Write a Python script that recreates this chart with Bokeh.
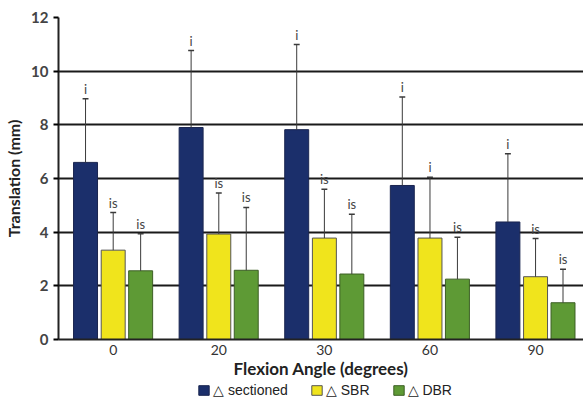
from bokeh.plotting import figure
from bokeh.layouts import column
from bokeh.models import Range1d, FixedTicker, Legend, LegendItem, ColumnDataSource
from bokeh.core.properties import value
from bokeh.embed import file_html
from bokeh.resources import INLINE

categories = ["0", "20", "30", "60", "90"]
sectioned = [6.6, 7.9, 7.82, 5.74, 4.38]
sectioned_err = [8.97, 10.77, 10.99, 9.04, 6.92]
sbr = [3.33, 3.93, 3.78, 3.78, 2.34]
sbr_err = [4.73, 5.46, 5.6, 6.05, 3.76]
dbr = [2.56, 2.58, 2.44, 2.25, 1.37]
dbr_err = [3.94, 4.92, 4.67, 3.81, 2.62]
sectioned_sig = ["i", "i", "i", "i", "i"]
sbr_sig = ["is", "is", "is", "i", "is"]
dbr_sig = ["is", "is", "is", "is", "is"]
series_labels = ["\u25b3 sectioned", "\u25b3 SBR", "\u25b3 DBR"]
y_ticks = [0, 2, 4, 6, 8, 10, 12]

FONT = "Lato"
colors = ["#1b2f6b", "#f0e41c", "#5e9a35"]
outlines = ["#1a2550", "#555555", "#3d5f25"]
offsets = [-0.262, 0.0, 0.26]
bw = 0.227

p = figure(width=583, height=382, output_backend="svg", toolbar_location=None,
           x_range=Range1d(-0.518, 4.454), y_range=Range1d(0, 12),
           min_border_left=58, min_border_top=17, min_border_right=0,
           min_border_bottom=43)
p.outline_line_color = None
p.background_fill_color = "white"

idx = list(range(len(categories)))
series = [(sectioned, sectioned_err, sectioned_sig),
          (sbr, sbr_err, sbr_sig),
          (dbr, dbr_err, dbr_sig)]

for k, (vals, errs, sigs) in enumerate(series):
    xs = [i + offsets[k] for i in idx]
    src = ColumnDataSource(dict(x=xs, top=vals, err=errs, sig=sigs,
                                cl=[x - 0.028 for x in xs], cr=[x + 0.028 for x in xs]))
    p.vbar(x="x", top="top", width=bw, source=src, fill_color=colors[k],
           line_color=outlines[k], line_width=1)
    p.segment(x0="x", y0="top", x1="x", y1="err", source=src, line_color="#3a3a3a", line_width=1)
    p.segment(x0="cl", y0="err", x1="cr", y1="err", source=src, line_color="#3a3a3a", line_width=1.5)
    p.text(x="x", y="err", text="sig", source=src, text_align="center",
           text_baseline="bottom", y_offset=-2, text_font=value(FONT),
           text_font_size="13px", text_color="#444444")

# axes
p.xaxis.ticker = FixedTicker(ticks=idx)
p.xaxis.major_label_overrides = {i: c for i, c in enumerate(categories)}
p.xaxis.major_tick_out = 0
p.xaxis.major_tick_in = 0
p.xaxis.minor_tick_line_color = None
p.xaxis.axis_line_width = 2
p.xaxis.axis_line_color = "#222222"
p.xaxis.major_label_text_font = FONT
p.xaxis.major_label_text_font_size = "14px"
p.xaxis.major_label_text_color = "#333333"
p.xaxis.major_label_standoff = 5
p.xaxis.axis_label = "Flexion Angle (degrees)"
p.xaxis.axis_label_text_font = FONT
p.xaxis.axis_label_text_font_style = "bold"
p.xaxis.axis_label_text_font_size = "17px"
p.xaxis.axis_label_text_color = "#222222"
p.xaxis.axis_label_standoff = 0

p.yaxis.ticker = FixedTicker(ticks=y_ticks)
p.yaxis.major_tick_out = 5
p.yaxis.major_tick_in = 0
p.yaxis.major_tick_line_width = 2
p.yaxis.minor_tick_line_color = None
p.yaxis.axis_line_width = 2
p.yaxis.axis_line_color = "#222222"
p.yaxis.major_label_text_font = FONT
p.yaxis.major_label_text_font_style = "bold"
p.yaxis.major_label_text_font_size = "15px"
p.yaxis.major_label_text_color = "#444444"
p.yaxis.major_label_standoff = 5
p.yaxis.axis_label = "Translation (mm)"
p.yaxis.axis_label_text_font = FONT
p.yaxis.axis_label_text_font_style = "bold"
p.yaxis.axis_label_text_font_size = "16px"
p.yaxis.axis_label_text_color = "#222222"
p.yaxis.axis_label_standoff = 5

p.xgrid.grid_line_color = None
p.ygrid.grid_line_color = "#1a1a1a"
p.ygrid.grid_line_width = 2

# legend strip below the chart
lg = figure(width=583, height=17, output_backend="svg", toolbar_location=None,
            x_range=Range1d(0, 1), y_range=Range1d(0, 1),
            min_border=0, x_axis_type=None, y_axis_type=None)
lg.outline_line_color = None
lg.grid.visible = False
items = []
for k in range(3):
    # zero-size placeholder glyph: only its legend swatch is shown
    r = lg.vbar(x=[0], top=[0], bottom=[0], width=0, fill_color=colors[k],
                line_color=outlines[k], line_width=1)
    items.append(LegendItem(label=series_labels[k], renderers=[r]))
legend = Legend(items=items, orientation="horizontal", location=(139, 1),
                label_text_font="Liberation Sans", label_text_font_size="14px",
                label_text_color="#222222", glyph_width=13, glyph_height=12,
                label_standoff=3, spacing=22, padding=0, margin=0,
                border_line_color=None, background_fill_alpha=0,
                label_height=14)
lg.add_layout(legend, "center")

layout = column(p, lg, spacing=0)
open("out.html", "w").write(file_html(layout, INLINE))
